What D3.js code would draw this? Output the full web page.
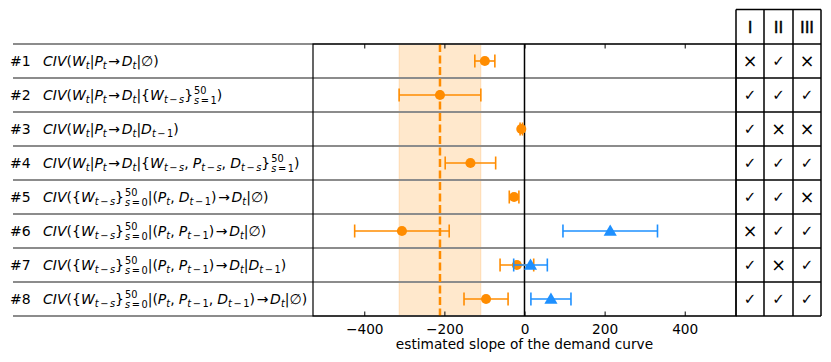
<!DOCTYPE html>
<html>
<head>
<meta charset="utf-8">
<script src="https://cdn.jsdelivr.net/npm/d3@7"></script>
<style>
  body { margin: 0; background: #fff; }
  svg { display: block; }
  text { font-family: "DejaVu Sans", sans-serif; }
</style>
</head>
<body>
<script>
// ---------------- data ----------------
const rowIds = ["#1", "#2", "#3", "#4", "#5", "#6", "#7", "#8"];
const rowLabels = [
  "CIV(W_t|P_t→D_t|∅)",
  "CIV(W_t|P_t→D_t|\\{W_{t−s}\\}^{50}_{s=1})",
  "CIV(W_t|P_t→D_t|D_{t−1})",
  "CIV(W_t|P_t→D_t|\\{W_{t−s}, P_{t−s}, D_{t−s}\\}^{50}_{s=1})",
  "CIV(\\{W_{t−s}\\}^{50}_{s=0}|(P_t, D_{t−1})→D_t|∅)",
  "CIV(\\{W_{t−s}\\}^{50}_{s=0}|(P_t, P_{t−1})→D_t|∅)",
  "CIV(\\{W_{t−s}\\}^{50}_{s=0}|(P_t, P_{t−1})→D_t|D_{t−1})",
  "CIV(\\{W_{t−s}\\}^{50}_{s=0}|(P_t, P_{t−1}, D_{t−1})→D_t|∅)"
];
const orangeEst = [-99, -211, -8, -135, -26, -306, -19, -96];
const orangeErr = [25, 102, 3, 63, 12, 118, 42, 55];
const blueEst = [null, null, null, null, null, 214, 15, 66];
const blueErr = [null, null, null, null, null, 118, 42, 50];
const refValue = -211;
const refBand = [-313, -109];
const xTicks = [-400, -200, 0, 200, 400];
const xLabel = "estimated slope of the demand curve";
const tableHeaders = ["I", "II", "III"];
const tableMarks = [
  [0, 1, 0],
  [1, 1, 1],
  [1, 0, 0],
  [1, 1, 1],
  [1, 1, 0],
  [0, 1, 1],
  [1, 0, 1],
  [1, 1, 1]
];

// ---------------- layout ----------------
const W = 831, H = 362;
const plotL = 313, plotR = 736, plotT = 44, plotB = 316;
const tabCols = [736, 764, 793, 821];
const tabTop = 9.5;
const orange = "#ff8c00", blue = "#1e90ff";

const svg = d3.select("body").append("svg").attr("width", W).attr("height", H);

const x = d3.scaleLinear().domain([-528, 528]).range([plotL, plotR]);
const y = d3.scaleBand().domain(d3.range(rowIds.length)).range([plotT, plotB]).padding(0);
const yc = i => y(i) + y.bandwidth() / 2;

// shaded band
svg.append("rect")
  .attr("x", x(refBand[0])).attr("y", plotT)
  .attr("width", x(refBand[1]) - x(refBand[0])).attr("height", plotB - plotT)
  .attr("fill", orange).attr("fill-opacity", 0.2)
  .attr("stroke", orange).attr("stroke-opacity", 0.2).attr("stroke-width", 1);

// gray row separators
const seps = d3.range(rowIds.length + 1).map(k => plotT + k * y.bandwidth());
svg.append("g").selectAll("line").data(seps).join("line")
  .attr("x1", 13).attr("x2", plotR)
  .attr("y1", d => d).attr("y2", d => d)
  .attr("stroke", "#8c8c8c").attr("stroke-width", 2);

// dashed reference line
svg.append("line")
  .attr("x1", x(refValue)).attr("x2", x(refValue))
  .attr("y1", plotT).attr("y2", plotB)
  .attr("stroke", orange).attr("stroke-width", 2.5)
  .attr("stroke-dasharray", "8,3.5");

// zero line
svg.append("line")
  .attr("x1", x(0)).attr("x2", x(0)).attr("y1", plotT).attr("y2", plotB)
  .attr("stroke", "#000").attr("stroke-width", 1.5);

// error bars
function drawSeries(est, err, color, shape) {
  const g = svg.append("g");
  const data = est.map((v, i) => ({ v, e: err[i], i })).filter(d => d.v !== null);
  const cap = 6.5;
  data.forEach(d => {
    const cy = yc(d.i);
    g.append("line").attr("x1", x(d.v - d.e)).attr("x2", x(d.v + d.e))
      .attr("y1", cy).attr("y2", cy).attr("stroke", color).attr("stroke-width", 1.6);
    [d.v - d.e, d.v + d.e].forEach(c => {
      g.append("line").attr("x1", x(c)).attr("x2", x(c))
        .attr("y1", cy - cap).attr("y2", cy + cap)
        .attr("stroke", color).attr("stroke-width", 1.6);
    });
    g.append("path")
      .attr("d", d3.symbol().type(shape).size(shape === d3.symbolCircle ? 80 : 75)())
      .attr("transform", `translate(${x(d.v)},${cy + (shape === d3.symbolTriangle ? 1 : 0)})`)
      .attr("fill", color);
  });
}
drawSeries(orangeEst, orangeErr, orange, d3.symbolCircle);
drawSeries(blueEst, blueErr, blue, d3.symbolTriangle);

// axes frame and ticks
const axB = svg.append("g").attr("transform", `translate(0,${plotB})`)
  .call(d3.axisBottom(x).tickValues(xTicks).tickSizeInner(-4.5).tickSizeOuter(0).tickPadding(8)
    .tickFormat(d => d < 0 ? "\u2212" + Math.abs(d) : d));
axB.select(".domain").remove();
axB.selectAll("text").attr("font-size", 13.7).attr("font-family", "DejaVu Sans").attr("fill", "#000")
  .attr("dy", "0.71em");
axB.selectAll("line").attr("stroke", "#000").attr("stroke-width", 1);
const axT = svg.append("g").attr("transform", `translate(0,${plotT})`)
  .call(d3.axisTop(x).tickValues(xTicks).tickSizeInner(-4.5).tickSizeOuter(0).tickFormat(""));
axT.select(".domain").remove();
axT.selectAll("line").attr("stroke", "#000").attr("stroke-width", 1);

svg.append("rect").attr("x", plotL).attr("y", plotT)
  .attr("width", plotR - plotL).attr("height", plotB - plotT)
  .attr("fill", "none").attr("stroke", "#000").attr("stroke-width", 1.2);

svg.append("text").attr("x", x(0)).attr("y", 349)
  .attr("text-anchor", "middle").attr("font-size", 13.7).text(xLabel);

// ---------------- math-ish labels ----------------
const FS = 14;
const measurer = svg.append("text").attr("x", -1000).attr("y", -1000);
function measure(t, size, italic) {
  measurer.attr("font-size", size).attr("font-style", italic ? "italic" : "normal").text(t);
  return measurer.node().getComputedTextLength();
}
function readGroup(s, i) {
  if (s[i] === "{") {
    let depth = 1, j = i + 1;
    while (j < s.length && depth > 0) {
      if (s[j] === "{") depth++;
      else if (s[j] === "}") depth--;
      j++;
    }
    return [s.slice(i + 1, j - 1), j];
  }
  return [s[i], i + 1];
}
function parse(s) {
  const items = [];
  let i = 0;
  while (i < s.length) {
    const c = s[i];
    if (c === "\\") { items.push({ type: "ch", c: s[i + 1] }); i += 2; }
    else if (c === "_" || c === "^") {
      const [g, j] = readGroup(s, i + 1);
      items.push({ type: c === "_" ? "sub" : "sup", g });
      i = j;
    } else { items.push({ type: "ch", c }); i++; }
  }
  return items;
}
const isLetter = ch => /[A-Za-z]/.test(ch);
function drawRun(g, str, x0, base, size) {
  let xx = x0;
  for (const ch of str) {
    if (ch === " ") { xx += size * 0.22; continue; }
    let pre = 0, post = 0;
    if (ch === "−" || ch === "=") { pre = size * 0.16; post = size * 0.16; }
    if (ch === "→") { pre = size * 0.12; post = size * 0.12; }
    if (ch === ",") { post = size * 0.08; }
    xx += pre;
    const it = isLetter(ch);
    g.append("text").attr("x", xx).attr("y", base).attr("font-size", size)
      .attr("font-style", it ? "italic" : "normal").text(ch);
    xx += measure(ch, size, it) + post;
  }
  return xx - x0;
}
function drawMath(g, s, x0, base) {
  const items = parse(s);
  let xx = x0;
  const ss = FS * 0.7;
  for (let k = 0; k < items.length; k++) {
    const it = items[k];
    if (it.type === "ch") {
      xx += drawRun(g, it.c, xx, base, FS);
    } else {
      const nxt = items[k + 1];
      if (nxt && nxt.type !== "ch" && nxt.type !== it.type) {
        const sup = it.type === "sup" ? it : nxt;
        const sub = it.type === "sub" ? it : nxt;
        const w1 = drawRun(g, sup.g, xx + 1, base - FS * 0.42, ss);
        const w2 = drawRun(g, sub.g, xx + 1, base + FS * 0.27, ss);
        xx += Math.max(w1, w2) + 1;
        k++;
      } else if (it.type === "sub") {
        xx += drawRun(g, it.g, xx, base + FS * 0.22, ss);
      } else {
        xx += drawRun(g, it.g, xx, base - FS * 0.42, ss);
      }
    }
  }
}
const labG = svg.append("g");
rowIds.forEach((id, i) => {
  const base = yc(i) + 5;
  labG.append("text").attr("x", 10).attr("y", base).attr("font-size", FS).text(id);
  drawMath(labG, rowLabels[i], 43, base);
});
measurer.remove();

// ---------------- table ----------------
const tg = svg.append("g");
const tabRows = [tabTop].concat(seps);
tg.selectAll("line.h").data(tabRows).join("line").attr("class", "h")
  .attr("x1", tabCols[0]).attr("x2", tabCols[3])
  .attr("y1", d => d).attr("y2", d => d)
  .attr("stroke", "#000").attr("stroke-width", 1.5);
tg.selectAll("line.v").data(tabCols).join("line").attr("class", "v")
  .attr("x1", d => d).attr("x2", d => d)
  .attr("y1", tabTop).attr("y2", plotB)
  .attr("stroke", "#000").attr("stroke-width", 1.5);
const colC = j => (tabCols[j] + tabCols[j + 1]) / 2;
tableHeaders.forEach((h, j) => {
  tg.append("text").attr("x", colC(j)).attr("y", (tabTop + plotT) / 2 + 6)
    .attr("text-anchor", "middle").attr("font-size", 16)
    .attr("fill", "#000").attr("stroke", "#000").attr("stroke-width", 0.4).text(h);
});
tableMarks.forEach((row, i) => {
  row.forEach((m, j) => {
    tg.append("text").attr("x", colC(j)).attr("y", yc(i) + (m ? 5 : 6))
      .attr("text-anchor", "middle").attr("font-size", m ? 15 : 17.5)
      .text(m ? "\u2713" : "\u00d7");
  });
});
</script>
</body>
</html>
